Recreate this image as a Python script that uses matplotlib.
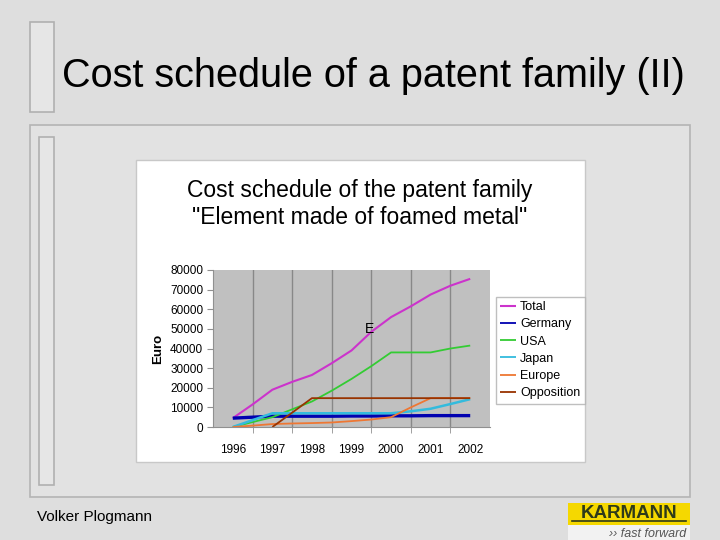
import matplotlib
matplotlib.use("Agg")
import matplotlib.pyplot as plt
import numpy as np
from matplotlib.patches import Rectangle

plt.rcParams["font.family"] = ["Liberation Sans", "DejaVu Sans"]

SLIDE_BG = "#dedede"
PLOT_BG = "#c0c0c0"

# Half-year sample points of the cost schedule
periods = [1996, 1996.5, 1997, 1997.5, 1998, 1998.5, 1999, 1999.5,
           2000, 2000.5, 2001, 2001.5, 2002]
year_labels = ["1996", "1997", "1998", "1999", "2000", "2001", "2002"]

total = [4500, 11500, 19000, 23000, 26500, 32500, 39000, 48500,
         56000, 61500, 67500, 72000, 75500]
germany = [4500, 5000, 5500, 5500, 5500, 5500, 5600, 5600,
           5700, 5700, 5800, 5800, 5800]
usa = [0, 2500, 5000, 9000, 13000, 18500, 24500, 31000,
       38000, 38000, 38000, 40000, 41500]
japan = [0, 3500, 7000, 7000, 7000, 7000, 7000, 7000,
         7000, 8000, 9300, 11700, 14200]
europe = [0, 700, 1500, 1800, 2000, 2300, 3000, 3800,
          5000, 10000, 14700, 14700, 14700]
opposition = [np.nan, np.nan, 0, 7300, 14700, 14700, 14700, 14700,
              14700, 14700, 14700, 14700, 14700]

series = [
    ("Total", total, "#cc33cc", 1.5),
    ("Germany", germany, "#0000b0", 2.4),
    ("USA", usa, "#33cc33", 1.3),
    ("Japan", japan, "#33bbdd", 1.8),
    ("Europe", europe, "#ee7733", 1.3),
    ("Opposition", opposition, "#993300", 1.3),
]

W, H = 720, 540
fig = plt.figure(figsize=(7.2, 5.4), dpi=100, facecolor=SLIDE_BG)


def px_rect(x0, y0, x1, y1, **kw):
    # rectangle given in slide pixel coordinates (origin top-left)
    fig.patches.append(Rectangle((x0 / W, 1 - y1 / H), (x1 - x0) / W, (y1 - y0) / H,
                                 transform=fig.transFigure, figure=fig, zorder=-5, **kw))


# slide decoration
px_rect(30, 22, 54, 112, facecolor="#e6e6e6", edgecolor="#b0b0b0", linewidth=1.2)
px_rect(30, 125, 690, 497, facecolor="#e2e2e2", edgecolor="#b4b4b4", linewidth=1.2)
px_rect(39, 137, 54, 485, facecolor="#e6e6e6", edgecolor="#b0b0b0", linewidth=1.2)
fig.text(62 / W, 1 - 76 / H, "Cost schedule of a patent family (II)",
         fontsize=28.5, ha="left", va="center", color="black")

# white chart area
px_rect(136, 160, 585, 462, facecolor="white", edgecolor="#c8c8c8", linewidth=1.0)
fig.text(360 / W, 1 - 190 / H, "Cost schedule of the patent family",
         fontsize=16.5, ha="center", va="center")
fig.text(360 / W, 1 - 218 / H, "\"Element made of foamed metal\"",
         fontsize=16.5, ha="center", va="center")

ax = fig.add_axes([213 / W, 1 - 427 / H, 277 / W, 157 / H])
ax.set_facecolor(PLOT_BG)
for name, values, color, lw in series:
    ax.plot(periods, values, color=color, linewidth=lw, label=name,
            solid_capstyle="butt")

ax.set_xlim(1995.5, 2002.5)
ax.set_ylim(0, 80000)
ax.set_yticks(np.arange(0, 80001, 10000))
ax.set_yticklabels([str(v) for v in range(0, 80001, 10000)], fontsize=8.5)
ax.set_xticks(range(1996, 2003))
ax.set_xticklabels(year_labels, fontsize=8.5)
ax.set_xticks(np.arange(1996.5, 2002.5, 1.0), minor=True)
ax.tick_params(axis="x", which="major", length=0, pad=12)
ax.tick_params(axis="x", which="minor", length=4, color="#909090")
ax.tick_params(axis="y", length=4, color="#909090", pad=3)
ax.grid(axis="x", which="minor", color="#888888", linewidth=1.0)
for side in ("top", "right"):
    ax.spines[side].set_visible(False)
ax.spines["left"].set_color("#909090")
ax.spines["bottom"].set_color("#909090")
ax.set_ylabel("Euro", fontsize=9.5, fontweight="bold", labelpad=4)
ax.text(1999.45, 50000, "E", fontsize=10, ha="center", va="center")

leg = ax.legend(loc="upper left", bbox_to_anchor=(1.02, 0.83), fontsize=9,
                frameon=True, fancybox=False, handlelength=1.3, handletextpad=0.3,
                borderpad=0.35, labelspacing=0.42, borderaxespad=0)
leg.get_frame().set_edgecolor("#b0b0b0")
leg.get_frame().set_linewidth(1.0)
for handle in leg.get_lines():
    if handle.get_label() != "Total":
        handle.set_linewidth(1.3)

# footer
fig.text(37 / W, 1 - 517 / H, "Volker Plogmann", fontsize=11, ha="left", va="center")
px_rect(568, 503, 690, 525, facecolor="#f5d800", edgecolor="none")
px_rect(568, 525, 690, 540, facecolor="#f2f2f2", edgecolor="none")
fig.text(629 / W, 1 - 513 / H, "KARMANN", fontsize=13.5, fontweight="bold",
         ha="center", va="center", color="#2e3a1a")
fig.lines.append(plt.Line2D([572 / W, 686 / W], [1 - 521 / H, 1 - 521 / H],
                            transform=fig.transFigure, color="#2e3a1a", linewidth=1.2))
fig.text(686 / W, 1 - 534 / H, "›› fast forward", fontsize=9, style="italic",
         ha="right", va="center", color="#555555")

fig.savefig("out.png", dpi=100, facecolor=SLIDE_BG)
